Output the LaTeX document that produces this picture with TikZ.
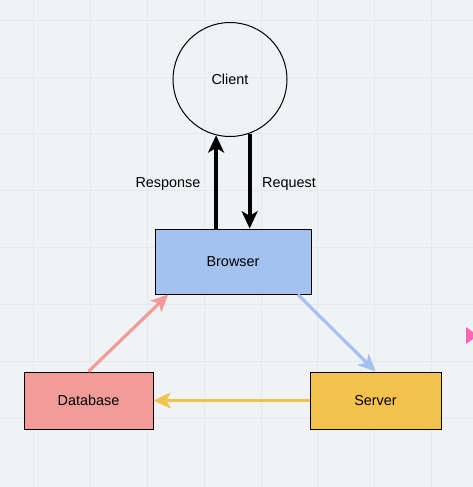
\documentclass[tikz,border=0pt]{standalone}
\usepackage{fontspec}
\setmainfont{Liberation Sans}
\usetikzlibrary{arrows.meta}
\definecolor{bgcol}{HTML}{F0F3F6}
\definecolor{gridcol}{HTML}{E5E9EE}
\definecolor{browsercol}{HTML}{A4C2F0}
\definecolor{dbcol}{HTML}{F19C99}
\definecolor{servercol}{HTML}{F3C24C}
\definecolor{markcol}{HTML}{FF66B3}

\begin{document}
\begin{tikzpicture}[x=0.75pt, y=-0.75pt, font=\fontsize{10.8}{12}\selectfont,
		box/.style={draw, line width=0.75pt, minimum height=42.75pt},
		flow/.style={-{Stealth[length=13pt, width=12pt, inset=3.5pt]}, line width=2.4pt}]
		% background and grid
		\useasboundingbox (0,0) rectangle (473,487);
		\clip (0,0) rectangle (473,487);
		\fill[bgcol] (0,0) rectangle (473,487);
		\foreach \g in {0,...,7} {
			\draw[gridcol, line width=0.6pt] ({33.3+56.9*\g},0) -- ({33.3+56.9*\g},487);
			\draw[gridcol, line width=0.6pt] (0,{20+56.9*\g}) -- (473,{20+56.9*\g});
		}
		% nodes
		\node[draw, circle, line width=0.75pt, minimum size=85.5pt, inner sep=0pt] (client) at (230,79.5) {Client};
		\node[box, fill=browsercol, minimum width=117pt, minimum height=48.75pt] (browser) at (233,261.5) {Browser};
		\node[box, fill=dbcol, minimum width=96.75pt] (database) at (88.5,400.5) {Database};
		\node[box, fill=servercol, minimum width=98.25pt] (server) at (375.5,400.5) {Server};
		% request / response
		\draw[flow, line width=3pt] (browser.north -| client.-104) -- (client.-104);
		\draw[flow, line width=3pt] (client.-70) -- (client.-70 |- browser.north);
		\node (response) at (168,184) {Response};
		\node (request) at (289,184) {Request};
		% cycle
		\draw[flow, browsercol] (browser.-27) -- (server.north);
		\draw[flow, servercol] (server.west) -- (database.east);
		\draw[flow, dbcol] (database.north) -- (browser.-153);
		% cut-off marker at the edge
		\fill[markcol] (466,327) -- (478,335.5) -- (466,344) -- cycle;
	\end{tikzpicture}
\end{document}
